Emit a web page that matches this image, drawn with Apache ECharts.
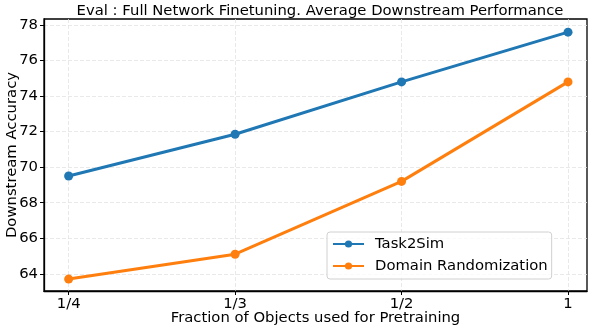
<!DOCTYPE html>
<html>
<head>
<meta charset="utf-8">
<script src="https://cdn.jsdelivr.net/npm/echarts@6/dist/echarts.min.js"></script>
<style>
  html, body { margin: 0; padding: 0; background: #fff; }
  #main { width: 598px; height: 332px; }
</style>
</head>
<body>
<div id="main"></div>
<script>
// fractions of objects, placed at 0..3 on the x axis
var fractionLabels = ['1/4', '1/3', '1/2', '1'];
var task2sim = [69.5, 71.85, 74.8, 77.6];
var domainRand = [63.7, 65.1, 69.2, 74.8];
var yTicks = [64, 66, 68, 70, 72, 74, 76, 78];

var FONT = 'DejaVu Sans';
var FS = 14.8;

function pairs(vals) {
	var out = [];
	for (var i = 0; i < vals.length; i++) out.push([i, vals[i]]);
	return out;
}

var xTickVals = fractionLabels.map(function (v, i) { return i; });

var option = {
	animation: false,
	title: {
		text: 'Eval : Full Network Finetuning. Average Downstream Performance',
		left: 315,
		top: -1,
		textAlign: 'center',
		textStyle: { fontFamily: FONT, fontSize: FS, fontWeight: 'normal', color: '#000' }
	},
	grid: {
		left: 44, right: 11, top: 19, bottom: 41,
		outerBoundsMode: 'none',
		containLabel: false,
		show: true, borderColor: '#000', borderWidth: 1.3
	},
	legend: {
		orient: 'vertical',
		left: 327,
		top: 232,
		padding: [4, 4, 5, 5],
		itemWidth: 31,
		itemHeight: 9,
		itemGap: 6,
		backgroundColor: 'rgba(255,255,255,0.8)',
		borderColor: '#d0d0d0',
		borderWidth: 1,
		borderRadius: 3,
		textStyle: { fontFamily: FONT, fontSize: FS, color: '#000', lineHeight: 16, padding: [0, 0, 0, 6] },
		data: ['Task2Sim', 'Domain Randomization']
	},
	xAxis: {
		type: 'value',
		min: -0.148,
		max: 3.114,
		name: 'Fraction of Objects used for Pretraining',
		nameLocation: 'middle',
		nameGap: 20,
		nameMoveOverlap: false,
		nameTextStyle: { fontFamily: FONT, fontSize: FS, color: '#000' },
		axisLine: { show: true, onZero: false, lineStyle: { color: '#000', width: 1.3 } },
		axisTick: { show: true, customValues: xTickVals, length: 4, lineStyle: { color: '#000', width: 1 } },
		axisLabel: {
			customValues: xTickVals,
			fontFamily: FONT, fontSize: FS, color: '#000', margin: 6,
			formatter: function (v) { return fractionLabels[Math.round(v)]; }
		},
		splitLine: { show: true, lineStyle: { color: '#e3e3e3', type: [4, 2], width: 0.8 } }
	},
	yAxis: {
		type: 'value',
		min: 63.03,
		max: 78.34,
		name: 'Downstream Accuracy',
		nameLocation: 'middle',
		nameGap: 24,
		nameMoveOverlap: false,
		nameTextStyle: { fontFamily: FONT, fontSize: FS, color: '#000' },
		axisLine: { show: true, onZero: false, lineStyle: { color: '#000', width: 1.3 } },
		axisTick: { show: true, customValues: yTicks, length: 4, lineStyle: { color: '#000', width: 1 } },
		axisLabel: { customValues: yTicks, fontFamily: FONT, fontSize: FS, color: '#000', margin: 6 },
		splitLine: { show: true, lineStyle: { color: '#e3e3e3', type: [4, 2], width: 0.8 } }
	},
	series: [{
		name: 'Task2Sim',
		type: 'line',
		data: pairs(task2sim),
		symbol: 'circle',
		symbolSize: 9,
		lineStyle: { width: 3, color: '#1f77b4' },
		itemStyle: { color: '#1f77b4' }
	}, {
		name: 'Domain Randomization',
		type: 'line',
		data: pairs(domainRand),
		symbol: 'circle',
		symbolSize: 9,
		lineStyle: { width: 3, color: '#ff7f0e' },
		itemStyle: { color: '#ff7f0e' }
	}]
};

var myChart = echarts.init(document.getElementById('main'));
myChart.setOption(option);
</script>
</body>
</html>
